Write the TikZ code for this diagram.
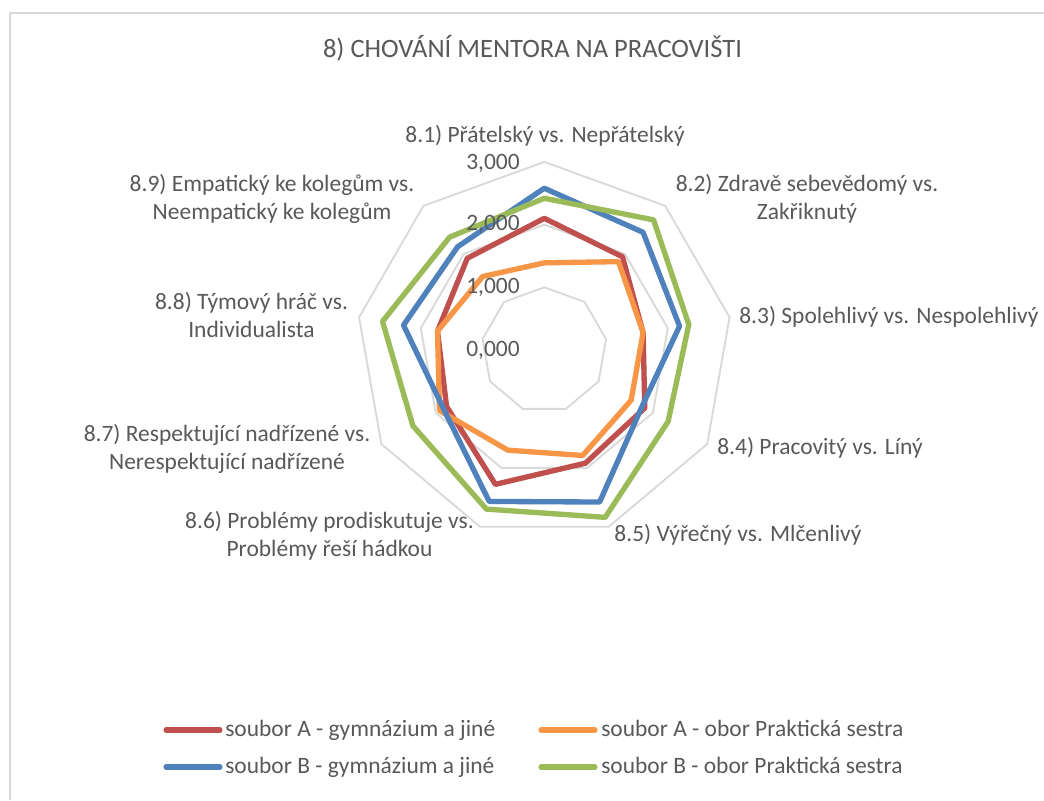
\documentclass[tikz,border=0pt]{standalone}
\usepackage{fontspec}
\setmainfont{Carlito}
\definecolor{txt}{HTML}{595959}
\definecolor{ringc}{HTML}{D9D9D9}
\definecolor{frm}{HTML}{D9D9D9}
\definecolor{cA}{HTML}{C0504D}
\definecolor{cB}{HTML}{F79646}
\definecolor{cC}{HTML}{4F81BD}
\definecolor{cD}{HTML}{9BBB59}
\newcommand\labfont{\fontsize{17.6}{21.2}\selectfont}
\newcommand\ttlfont{\fontsize{19.9}{23}\selectfont}
\begin{document}
\begin{tikzpicture}[x=0.75pt,y=-0.75pt,
  ring/.style={draw=ringc, line width=1.4pt, line join=miter},
  series/.style={line width=4pt, line join=round},
  lab/.style={text=txt, font=\labfont, inner sep=0pt, align=center},
  sl/.style={text height=12pt, text depth=2.2pt},
  legline/.style={line width=3.8pt, line cap=round},
  frameline/.style={draw=frm, line width=1.5pt}]
\useasboundingbox (0,0) rectangle (1044,800);
\fill[white] (0,0) rectangle (1044,800);
\draw[frameline] (10,800) -- (10,13) -- (1044,13);
% title
\node[lab, font=\ttlfont, text height=13.5pt, text depth=2.5pt] (title) at (532.5,50) {8) CHOVÁNÍ MENTORA NA PRACOVIŠTI};
\def\u{62.7}
\begin{scope}[shift={(544.3,350)}]
  \foreach \r in {1,2,3}{
    \draw[ring] ({-90}:{\r*\u}) \foreach \k in {1,...,8}{ -- ({40*\k-90}:{\r*\u})} -- cycle;
  }
  % soubor A - gymnazium
  \draw[series,cA] ({-90}:{2.10*\u}) -- ({-50}:{1.94*\u}) -- ({-10}:{1.60*\u}) -- ({30}:{1.85*\u}) -- ({70}:{1.92*\u}) -- ({110}:{2.28*\u}) -- ({150}:{1.80*\u}) -- ({190}:{1.73*\u}) -- ({230}:{1.91*\u}) -- cycle;
  % soubor A - prakticka sestra
  \draw[series,cB] ({-90}:{1.39*\u}) -- ({-50}:{1.84*\u}) -- ({-10}:{1.60*\u}) -- ({30}:{1.60*\u}) -- ({70}:{1.79*\u}) -- ({110}:{1.70*\u}) -- ({150}:{1.93*\u}) -- ({190}:{1.73*\u}) -- ({230}:{1.53*\u}) -- cycle;
  % soubor B - gymnazium
  \draw[series,cC] ({-90}:{2.58*\u}) -- ({-50}:{2.45*\u}) -- ({-10}:{2.19*\u}) -- ({30}:{1.80*\u}) -- ({70}:{2.58*\u}) -- ({110}:{2.57*\u}) -- ({150}:{1.86*\u}) -- ({190}:{2.28*\u}) -- ({230}:{2.15*\u}) -- cycle;
  % soubor B - prakticka sestra
  \draw[series,cD] ({-90}:{2.42*\u}) -- ({-50}:{2.71*\u}) -- ({-10}:{2.34*\u}) -- ({30}:{2.28*\u}) -- ({70}:{2.84*\u}) -- ({110}:{2.70*\u}) -- ({150}:{2.42*\u}) -- ({190}:{2.62*\u}) -- ({230}:{2.35*\u}) -- cycle;
\end{scope}
% tick labels
\node[lab, sl, anchor=east] (t3) at (520,162.7) {3,000};
\node[lab, sl, anchor=east] (t2) at (520,224.3) {2,000};
\node[lab, sl, anchor=east] (t1) at (520,286.7) {1,000};
\node[lab, sl, anchor=east] (t0) at (520,350) {0,000};
% category labels
\node[lab, sl] (c1) at (545,136) {8.1) Přátelský vs. Nepřátelský};
\node[lab] (c2) at (807,199) {8.2) Zdravě sebevědomý vs.\\Zakřiknutý};
\node[lab, sl] (c3) at (889,316.7) {8.3) Spolehlivý vs. Nespolehlivý};
\node[lab, sl] (c4) at (820,448.3) {8.4) Pracovitý vs. Líný};
\node[lab, sl] (c5) at (738,535) {8.5) Výřečný vs. Mlčenlivý};
\node[lab] (c6) at (329.5,536) {8.6) Problémy prodiskutuje vs.\\Problémy řeší hádkou};
\node[lab] (c7) at (227,449) {8.7) Respektující nadřízené vs.\\Nerespektující nadřízené};
\node[lab] (c8) at (251.5,315) {8.8) Týmový hráč vs.\\Individualista};
\node[lab] (c9) at (272,199) {8.9) Empatický ke kolegům vs.\\Neempatický ke kolegům};
% legend
\coordinate (l1a) at (166,730); \coordinate (l1b) at (220,730);
\coordinate (l2a) at (541,730); \coordinate (l2b) at (595,730);
\coordinate (l3a) at (166,767); \coordinate (l3b) at (220,767);
\coordinate (l4a) at (541,767); \coordinate (l4b) at (595,767);
\draw[legline,cA] (l1a) -- (l1b);
\draw[legline,cB] (l2a) -- (l2b);
\draw[legline,cC] (l3a) -- (l3b);
\draw[legline,cD] (l4a) -- (l4b);
\node[lab, sl, anchor=west] (g1) at (225,730) {soubor A - gymnázium a jiné};
\node[lab, sl, anchor=west] (g2) at (601,730) {soubor A - obor Praktická sestra};
\node[lab, sl, anchor=west] (g3) at (225,767) {soubor B - gymnázium a jiné};
\node[lab, sl, anchor=west] (g4) at (601,767) {soubor B - obor Praktická sestra};
\end{tikzpicture}
\end{document}
